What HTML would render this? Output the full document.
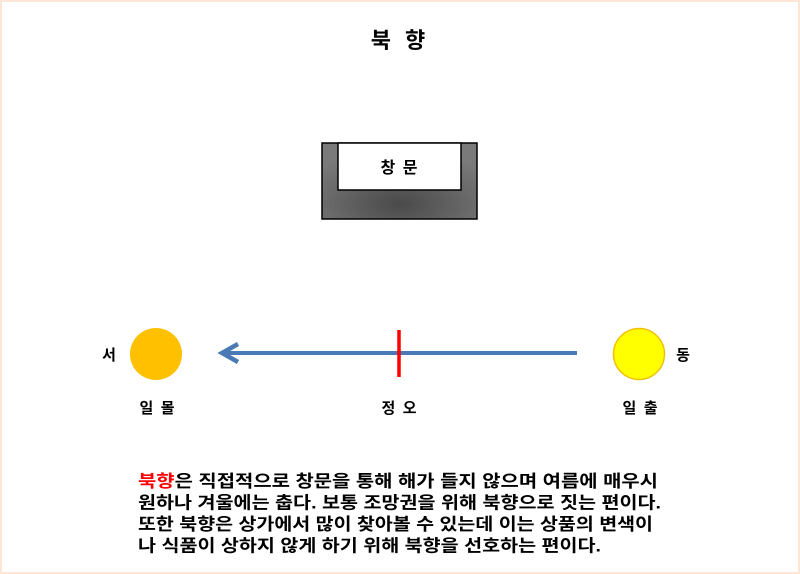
<!DOCTYPE html>
<html><head><meta charset="utf-8"><style>
body{margin:0;width:800px;height:574px;overflow:hidden;background:#fff}
</style></head><body>
<svg width="800" height="574" xmlns="http://www.w3.org/2000/svg" style="position:absolute;left:0;top:0">
<defs>
<radialGradient id="g" cx="0.5" cy="0.8" r="0.7">
<stop offset="0" stop-color="#4a4a4a"/><stop offset="1" stop-color="#7a7a7a"/>
</radialGradient>
</defs>
<rect x="1" y="1" width="798" height="572" fill="none" stroke="#fde6d6" stroke-width="2"/>
<text x="400" y="48" text-anchor="middle" font-family="Liberation Sans, Noto Sans CJK KR, sans-serif" font-weight="bold" font-size="22" letter-spacing="4">북 향</text>
<rect x="322" y="143" width="155" height="76" fill="url(#g)" stroke="#000" stroke-width="1.5"/>
<rect x="338" y="143" width="123" height="47" fill="#fff" stroke="#000" stroke-width="1.5"/>
<text x="400" y="173" text-anchor="middle" font-family="Noto Sans CJK KR, sans-serif" font-weight="bold" font-size="16" letter-spacing="2">창 문</text>
<line x1="224" y1="353" x2="577" y2="353" stroke="#4a7ab5" stroke-width="4"/>
<polyline points="238,344 222,353 238,362" fill="none" stroke="#4a7ab5" stroke-width="4.5" stroke-linejoin="miter"/>
<line x1="399" y1="330" x2="399" y2="377" stroke="#f00" stroke-width="3.5"/>
<circle cx="156" cy="354" r="26" fill="#ffc000"/>
<circle cx="639" cy="354" r="25.5" fill="#ffff00" stroke="#f0c000" stroke-width="1.5"/>
<g font-family="Noto Sans CJK KR, sans-serif" font-size="15" font-weight="bold" text-anchor="middle">
<text x="109" y="360">서</text>
<text x="683" y="360">동</text>
<text x="158" y="413" letter-spacing="2">일 몰</text>
<text x="400" y="413" letter-spacing="2">정 오</text>
<text x="641" y="413" letter-spacing="2">일 출</text>
</g>
<g font-family="Liberation Sans, Noto Sans CJK KR, sans-serif" font-weight="bold" font-size="17" lengthAdjust="spacingAndGlyphs">
<text x="138" y="487" textLength="520" lengthAdjust="spacingAndGlyphs"><tspan fill="#f00">북향</tspan>은 직접적으로 창문을 통해 해가 들지 않으며 여름에 매우시</text>
<text x="138" y="508.5" textLength="523" lengthAdjust="spacingAndGlyphs">원하나 겨울에는 춥다. 보통 조망권을 위해 북향으로 짓는 편이다.</text>
<text x="138" y="530" textLength="515" lengthAdjust="spacingAndGlyphs">또한 북향은 상가에서 많이 찾아볼 수 있는데 이는 상품의 변색이</text>
<text x="138" y="551.5" textLength="463" lengthAdjust="spacingAndGlyphs">나 식품이 상하지 않게 하기 위해 북향을 선호하는 편이다.</text>
</g>
</svg>
</body></html>
